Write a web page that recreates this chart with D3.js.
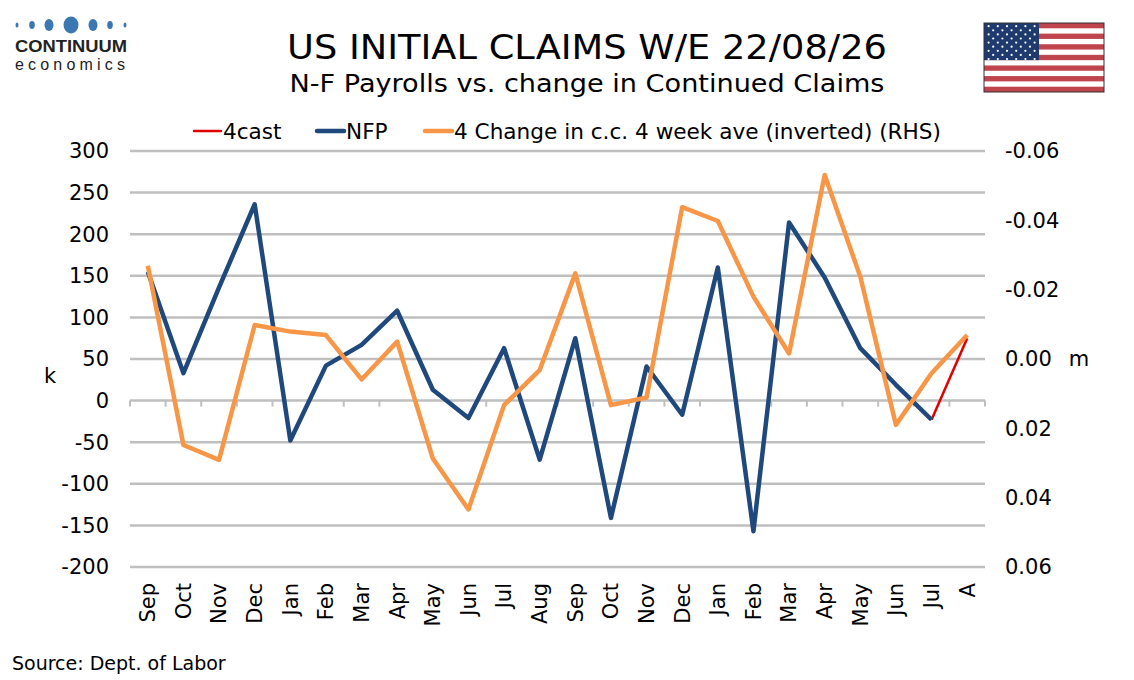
<!DOCTYPE html>
<html>
<head>
<meta charset="utf-8">
<script src="https://cdn.jsdelivr.net/npm/d3@7"></script>
<style>
  body { margin: 0; background: #fff; }
  svg { display: block; font-family: "DejaVu Sans", Verdana, sans-serif; }
</style>
</head>
<body>
<svg id="chart" width="1134" height="680"></svg>
<script>
// month labels along the x axis
const months = ["Sep","Oct","Nov","Dec","Jan","Feb","Mar","Apr","May","Jun","Jul","Aug",
                "Sep","Oct","Nov","Dec","Jan","Feb","Mar","Apr","May","Jun","Jul","A"];

// non-farm payrolls, k (last point is the 4cast)
const nfp = [155, 33, 136, 236, -48, 42, 67, 108, 13, -21, 63, -71,
             75, -141, 41, -17, 160, -157, 214, 148, 63, 19, -23, null];
const forecast = [null, null, null, null, null, null, null, null, null, null, null, null,
                  null, null, null, null, null, null, null, null, null, null, -23, 75];

// change in continued claims 4wk ave, m (RHS, inverted)
const ccChange = [-0.0269, 0.0248, 0.0291, -0.0098, -0.0079, -0.0069, 0.0059, -0.0050, 0.0287, 0.0434, 0.0133, 0.0032,
                  -0.0247, 0.0133, 0.0111, -0.0438, -0.0398, -0.0180, -0.0016, -0.0531, -0.0237, 0.0190, 0.0041, -0.0069];

const leftTicks = [300, 250, 200, 150, 100, 50, 0, -50, -100, -150, -200];
const rightTicks = [-0.06, -0.04, -0.02, 0, 0.02, 0.04, 0.06];

const colNFP = "#1f497d", colCC = "#f79646", colFc = "#e00000", colGrid = "#bfbfbf";

const svg = d3.select("#chart");

const plotLeft = 130, plotRight = 985, plotTop = 151, plotBottom = 567;

const x = d3.scaleBand().domain(d3.range(months.length)).range([plotLeft, plotRight]);
const xc = i => x(i) + x.bandwidth() / 2;
const yL = d3.scaleLinear().domain([-200, 300]).range([plotBottom, plotTop]);
const yR = d3.scaleLinear().domain([0.06, -0.06]).range([plotBottom, plotTop]);

// gridlines
svg.append("g").selectAll("line").data(leftTicks).join("line")
  .attr("x1", plotLeft).attr("x2", plotRight)
  .attr("y1", d => yL(d)).attr("y2", d => yL(d))
  .attr("stroke", colGrid).attr("stroke-width", 2.5);

// left axis labels
svg.append("g").selectAll("text").data(leftTicks).join("text")
  .attr("x", 109).attr("y", d => yL(d)).attr("dy", "0.35em")
  .attr("text-anchor", "end").attr("font-size", 21).attr("fill", "#000")
  .text(d => d);

// right axis labels (plain hyphen for negatives, like the source)
svg.append("g").selectAll("text").data(rightTicks).join("text")
  .attr("x", 1005).attr("y", d => yR(d)).attr("dy", "0.35em")
  .attr("text-anchor", "start").attr("font-size", 21).attr("fill", "#000")
  .text(d => d.toFixed(2));

svg.append("text").attr("x", 50).attr("y", yL(30)).attr("dy", "0.35em")
  .attr("text-anchor", "middle").attr("font-size", 21).text("k");
svg.append("text").attr("x", 1079).attr("y", yR(0)).attr("dy", "0.35em")
  .attr("text-anchor", "middle").attr("font-size", 21).text("m");

// x axis ticks on zero line
const tickPos = d3.range(months.length + 1).map(i => plotLeft + i * x.bandwidth());
svg.append("g").selectAll("line").data(tickPos).join("line")
  .attr("x1", d => d).attr("x2", d => d)
  .attr("y1", yL(0)).attr("y2", yL(0) + 6)
  .attr("stroke", colGrid).attr("stroke-width", 2);

// month labels, rotated
svg.append("g").selectAll("text").data(months).join("text")
  .attr("transform", (d, i) => `translate(${xc(i)}, 583) rotate(-90)`)
  .attr("text-anchor", "end").attr("dy", "0.35em").attr("font-size", 21).text(d => d);

// lines
const lineL = d3.line().defined(d => d != null).x((d, i) => xc(i)).y(d => yL(d));
const lineR = d3.line().x((d, i) => xc(i)).y(d => yR(d));

svg.append("path").datum(forecast).attr("d", lineL)
  .attr("fill", "none").attr("stroke", colFc).attr("stroke-width", 2.5);
svg.append("path").datum(nfp).attr("d", lineL)
  .attr("fill", "none").attr("stroke", colNFP).attr("stroke-width", 4.5)
  .attr("stroke-linejoin", "round");
svg.append("path").datum(ccChange).attr("d", lineR)
  .attr("fill", "none").attr("stroke", colCC).attr("stroke-width", 4.5)
  .attr("stroke-linejoin", "round");

// legend
const legend = [
  {label: "4cast", color: colFc, w: 2.5, x: 194},
  {label: "NFP", color: colNFP, w: 4.5, x: 317},
  {label: "4 Change in c.c. 4 week ave (inverted) (RHS)", color: colCC, w: 4.5, x: 425}
];
const lg = svg.append("g").selectAll("g").data(legend).join("g")
  .attr("transform", d => `translate(${d.x}, 131)`);
lg.append("line").attr("x1", 0).attr("x2", 27)
  .attr("stroke", d => d.color).attr("stroke-width", d => d.w).attr("stroke-linecap", "round");
lg.append("text").attr("x", 29).attr("dy", "0.35em").attr("font-size", 21.6).text(d => d.label);

// titles
svg.append("text").attr("x", 587).attr("y", 59).attr("text-anchor", "middle")
  .attr("font-size", 33).attr("textLength", 600).attr("lengthAdjust", "spacingAndGlyphs")
  .text("US INITIAL CLAIMS W/E 22/08/26");
svg.append("text").attr("x", 587).attr("y", 92).attr("text-anchor", "middle")
  .attr("font-size", 24.5).attr("textLength", 595).attr("lengthAdjust", "spacingAndGlyphs")
  .text("N-F Payrolls vs. change in Continued Claims");

svg.append("text").attr("x", 12).attr("y", 670).attr("font-size", 19).text("Source: Dept. of Labor");

// logo
const logoDots = [[17, 1.5, 2.5], [32, 2.8, 4], [49, 4.5, 6], [71, 7.5, 8.5], [93, 4.5, 6], [110, 2.8, 4], [125, 1.5, 2.5]];
svg.append("g").selectAll("ellipse").data(logoDots).join("ellipse")
  .attr("cx", d => d[0]).attr("cy", 25).attr("rx", d => d[1]).attr("ry", d => d[2])
  .attr("fill", "#3b78b1");
svg.append("text").attr("x", 71).attr("y", 52).attr("text-anchor", "middle")
  .attr("font-family", "'Liberation Sans', Arial, sans-serif").attr("font-weight", "bold")
  .attr("font-size", 17).attr("fill", "#222").attr("textLength", 112)
  .attr("lengthAdjust", "spacingAndGlyphs").text("CONTINUUM");
svg.append("text").attr("x", 71).attr("y", 70).attr("text-anchor", "middle")
  .attr("font-family", "'Liberation Sans', Arial, sans-serif")
  .attr("font-size", 16).attr("fill", "#222").attr("textLength", 112)
  .attr("letter-spacing", 2).text("economics");

// flag
const flag = svg.append("g").attr("transform", "translate(984,23)");
const fw = 120, fh = 69, stripe = fh / 13;
flag.append("rect").attr("width", fw).attr("height", fh).attr("fill", "#fff");
flag.selectAll("rect.s").data(d3.range(0, 13, 2)).join("rect").attr("class", "s")
  .attr("x", 0).attr("y", d => d * stripe).attr("width", fw).attr("height", stripe)
  .attr("fill", "#c0444c");
flag.append("rect").attr("width", 55).attr("height", stripe * 7).attr("fill", "#1f3a6e");
const stars = [];
for (let r = 0; r < 9; r++) {
  const n = r % 2 === 0 ? 6 : 5;
  for (let c = 0; c < n; c++) {
    stars.push([4.6 + c * 9.2 + (r % 2 ? 4.6 : 0), 3.2 + r * 4.1]);
  }
}
flag.selectAll("circle").data(stars).join("circle")
  .attr("cx", d => d[0]).attr("cy", d => d[1]).attr("r", 1.1).attr("fill", "#fff");
flag.append("rect").attr("width", fw).attr("height", fh)
  .attr("fill", "none").attr("stroke", "#333").attr("stroke-width", 1);
</script>
</body>
</html>
